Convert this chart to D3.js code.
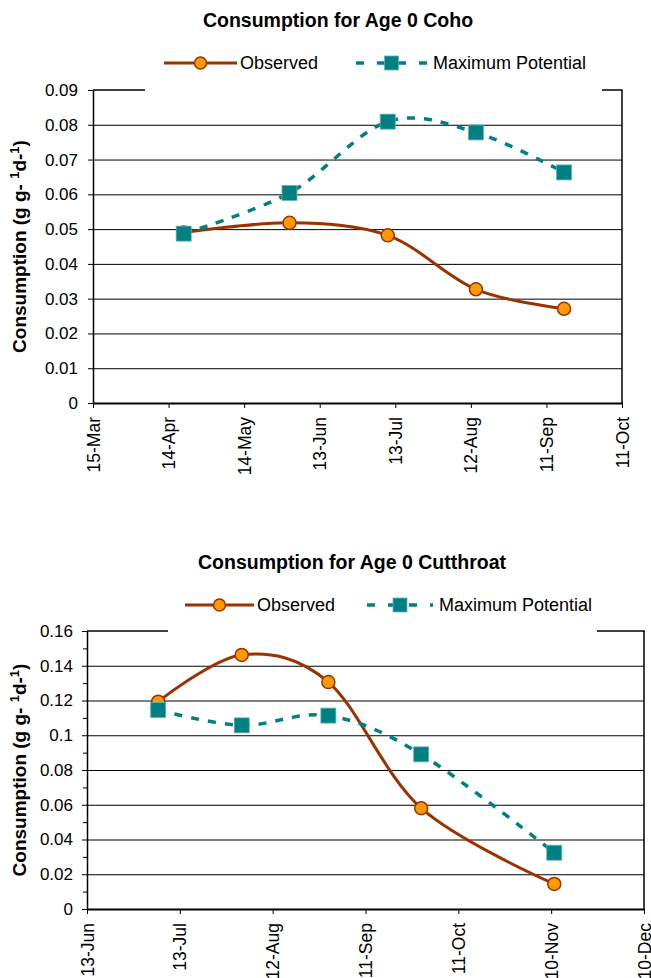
<!DOCTYPE html>
<html>
<head>
<meta charset="utf-8">
<script src="https://cdn.jsdelivr.net/npm/d3@7"></script>
<style>
  body { margin: 0; background: #fff; }
  svg { display: block; font-family: "Liberation Sans", Arial, sans-serif; }
</style>
</head>
<body>
<div id="chart"></div>
<script>
// Age 0 Coho
var cohoDates = ["20-Apr", "1-Jun", "10-Jul", "14-Aug", "18-Sep"];
var cohoObserved = [0.049, 0.0518, 0.0482, 0.0327, 0.0271];
var cohoMaxPotential = [0.0487, 0.0604, 0.0809, 0.0778, 0.0663];
var cohoXTicks = ["15-Mar", "14-Apr", "14-May", "13-Jun", "13-Jul", "12-Aug", "11-Sep", "11-Oct"];
var cohoYTicks = [0, 0.01, 0.02, 0.03, 0.04, 0.05, 0.06, 0.07, 0.08, 0.09];

// Age 0 Cutthroat
var cutDates = ["6-Jul", "2-Aug", "30-Aug", "29-Sep", "11-Nov"];
var cutObserved = [0.1193, 0.1462, 0.1306, 0.058, 0.0144];
var cutMaxPotential = [0.1145, 0.1057, 0.1113, 0.089, 0.0324];
var cutXTicks = ["13-Jun", "13-Jul", "12-Aug", "11-Sep", "11-Oct", "10-Nov", "10-Dec"];
var cutYTicks = [0, 0.02, 0.04, 0.06, 0.08, 0.1, 0.12, 0.14, 0.16];
var cutYMinor = [0.01, 0.03, 0.05, 0.07, 0.09, 0.11, 0.13, 0.15];

var seriesNames = ["Observed", "Maximum Potential"];

var parseDate = function(s) { return d3.timeParse("%d-%b-%Y")(s + "-2005"); };
var fmtDate = d3.timeFormat("%-d-%b");

var brown = "#993300", orange = "#ff9900", teal = "#008080";

var svg = d3.select("#chart").append("svg")
  .attr("width", 651)
  .attr("height", 978);

function drawChart(cfg) {
  var g = svg.append("g");
  var ticks = cfg.xTicks.map(parseDate);

  var x = d3.scaleTime()
    .domain([ticks[0], ticks[ticks.length - 1]])
    .range([cfg.left, cfg.right]);
  var y = d3.scaleLinear()
    .domain([0, cfg.yTicks[cfg.yTicks.length - 1]])
    .range([cfg.bottom, cfg.top]);

  // title
  g.append("text")
    .attr("x", cfg.titleX)
    .attr("y", cfg.titleY)
    .attr("text-anchor", "middle")
    .style("font-weight", "bold")
    .style("font-size", "19.5px")
    .text(cfg.title);

  // grid lines
  g.append("g")
    .attr("transform", "translate(" + cfg.left + ",0)")
    .call(d3.axisLeft(y).tickValues(cfg.yTicks.slice(1, -1)).tickSize(-(cfg.right - cfg.left)).tickFormat(""))
    .call(function(s) { s.select(".domain").remove(); })
    .selectAll("line").attr("stroke", "#000").attr("stroke-width", 1);

  // minor ticks
  if (cfg.yMinor) {
    g.append("g")
      .attr("transform", "translate(" + cfg.left + ",0)")
      .call(d3.axisLeft(y).tickValues(cfg.yMinor).tickSize(4).tickFormat(""))
      .call(function(s) { s.select(".domain").remove(); })
      .selectAll("line").attr("stroke", "#000");
  }

  // y axis
  var yAxis = g.append("g")
    .attr("transform", "translate(" + cfg.left + ",0)")
    .call(d3.axisLeft(y)
      .tickValues(cfg.yTicks)
      .tickSize(5)
      .tickSizeOuter(0)
      .tickPadding(cfg.yPad)
      .tickFormat(function(d) { return String(+d.toFixed(2)); }));
  yAxis.selectAll("text")
    .style("font-size", "17px")
    .attr("fill", "#000");
  yAxis.selectAll("line").attr("stroke", "#000");
  yAxis.select(".domain").attr("stroke", "#000").attr("stroke-width", 1.5);

  // x axis
  var xAxis = g.append("g")
    .attr("transform", "translate(0," + cfg.bottom + ")")
    .call(d3.axisBottom(x).tickValues(ticks).tickSize(5).tickSizeOuter(0).tickFormat(fmtDate));
  xAxis.select(".domain").attr("stroke", "#000").attr("stroke-width", 2);
  xAxis.selectAll("line").attr("stroke", "#000");
  xAxis.selectAll("text")
    .attr("transform", "rotate(-90)")
    .attr("text-anchor", "end")
    .attr("x", -14)
    .attr("y", 0)
    .attr("dy", "0.35em")
    .style("font-size", "17.5px")
    .attr("fill", "#000");

  // right and top border (legend box hides part of the top)
  g.append("line")
    .attr("x1", cfg.right).attr("x2", cfg.right)
    .attr("y1", cfg.top).attr("y2", cfg.bottom)
    .attr("stroke", "#000").attr("stroke-width", 1.5);
  g.append("line")
    .attr("x1", cfg.left).attr("x2", cfg.gapStart)
    .attr("y1", cfg.top).attr("y2", cfg.top)
    .attr("stroke", "#000").attr("stroke-width", 1.5);
  g.append("line")
    .attr("x1", cfg.gapEnd).attr("x2", cfg.right + 0.75)
    .attr("y1", cfg.top).attr("y2", cfg.top)
    .attr("stroke", "#000").attr("stroke-width", 1.5);

  // y axis title
  var yt = g.append("text")
    .attr("transform", "translate(" + cfg.yTitleX + "," + ((cfg.top + cfg.bottom) / 2) + ") rotate(-90)")
    .attr("text-anchor", "middle")
    .style("font-weight", "bold")
    .style("font-size", "19px");
  yt.append("tspan").text("Consumption (g g- ");
  yt.append("tspan").attr("baseline-shift", "super").style("font-size", "13px").text("1");
  yt.append("tspan").text("d-");
  yt.append("tspan").attr("baseline-shift", "super").style("font-size", "13px").text("1");
  yt.append("tspan").text(")");

  // series
  var obs = cfg.dates.map(function(d, i) { return { date: parseDate(d), value: cfg.observed[i] }; });
  var pot = cfg.dates.map(function(d, i) { return { date: parseDate(d), value: cfg.maxPotential[i] }; });
  var line = d3.line()
    .x(function(d) { return x(d.date); })
    .y(function(d) { return y(d.value); })
    .curve(d3.curveCardinal.tension(0));

  g.append("path")
    .datum(obs)
    .attr("fill", "none")
    .attr("stroke", brown)
    .attr("stroke-width", 3)
    .attr("d", line);
  g.selectAll(".obsDot")
    .data(obs)
    .enter().append("circle")
    .attr("cx", function(d) { return x(d.date); })
    .attr("cy", function(d) { return y(d.value); })
    .attr("r", 6.5)
    .attr("fill", orange)
    .attr("stroke", brown)
    .attr("stroke-width", 1.5);

  g.append("path")
    .datum(pot)
    .attr("fill", "none")
    .attr("stroke", teal)
    .attr("stroke-width", 3.5)
    .attr("stroke-dasharray", "8,9")
    .attr("d", line);
  g.selectAll(".potSq")
    .data(pot)
    .enter().append("rect")
    .attr("x", function(d) { return x(d.date) - 7.5; })
    .attr("y", function(d) { return y(d.value) - 7.5; })
    .attr("width", 15)
    .attr("height", 15)
    .attr("fill", teal)
    .attr("stroke", "#66b3b3")
    .attr("stroke-width", 0.8);

  // legend
  var L = cfg.legend;
  var lg = g.append("g").style("font-size", "18px");
  lg.append("line")
    .attr("x1", L.obsX1).attr("x2", L.obsX2)
    .attr("y1", L.y).attr("y2", L.y)
    .attr("stroke", brown).attr("stroke-width", 3);
  lg.append("circle")
    .attr("cx", (L.obsX1 + L.obsX2) / 2).attr("cy", L.y)
    .attr("r", 6)
    .attr("fill", orange).attr("stroke", brown).attr("stroke-width", 1.5);
  lg.append("text")
    .attr("x", L.obsX2 + 3).attr("y", L.y).attr("dy", "0.35em")
    .text(seriesNames[0]);
  lg.append("line")
    .attr("x1", L.potX1).attr("x2", L.potX2)
    .attr("y1", L.y).attr("y2", L.y)
    .attr("stroke", teal).attr("stroke-width", 3.5)
    .attr("stroke-dasharray", "8,13");
  lg.append("rect")
    .attr("x", (L.potX1 + L.potX2) / 2 - 7).attr("y", L.y - 7)
    .attr("width", 14).attr("height", 14)
    .attr("fill", teal).attr("stroke", "#66b3b3").attr("stroke-width", 0.8);
  lg.append("text")
    .attr("x", L.potX2 + 6).attr("y", L.y).attr("dy", "0.35em")
    .text(seriesNames[1]);
}

drawChart({
  title: "Consumption for Age 0 Coho",
  titleX: 338, titleY: 27,
  dates: cohoDates, observed: cohoObserved, maxPotential: cohoMaxPotential,
  xTicks: cohoXTicks, yTicks: cohoYTicks,
  left: 93, right: 622, top: 90, bottom: 403,
  gapStart: 145, gapEnd: 602,
  yPad: 10, yTitleX: 26,
  legend: { y: 63, obsX1: 164, obsX2: 237, potX1: 356, potX2: 427 }
});

drawChart({
  title: "Consumption for Age 0 Cutthroat",
  titleX: 352, titleY: 569,
  dates: cutDates, observed: cutObserved, maxPotential: cutMaxPotential,
  xTicks: cutXTicks, yTicks: cutYTicks, yMinor: cutYMinor,
  left: 87, right: 644, top: 631, bottom: 909,
  gapStart: 168, gapEnd: 597,
  yPad: 9, yTitleX: 26,
  legend: { y: 605, obsX1: 185, obsX2: 254, potX1: 367, potX2: 433 }
});
</script>
</body>
</html>
